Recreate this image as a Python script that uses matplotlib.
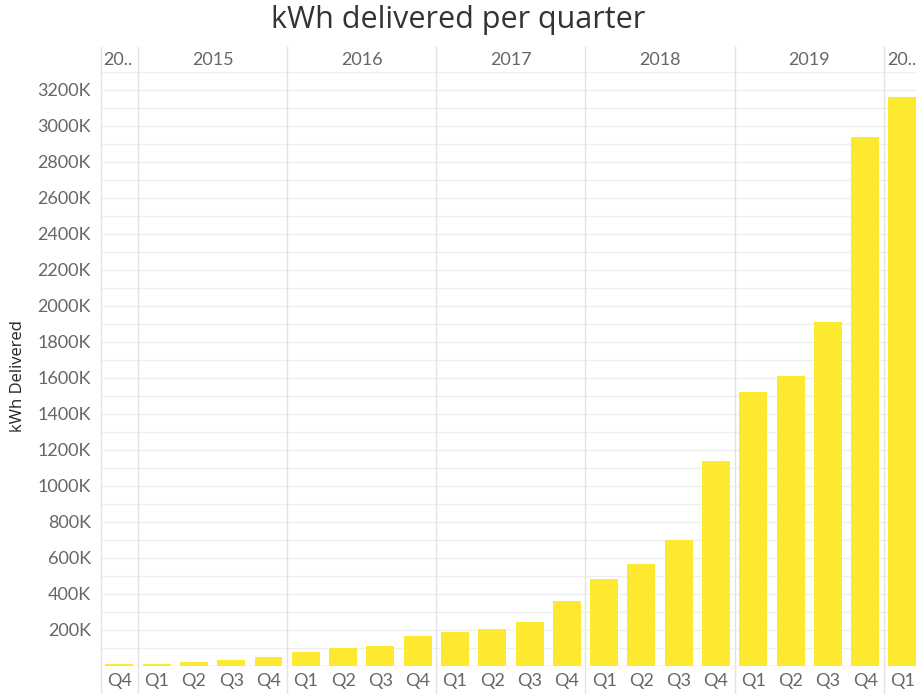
import numpy as np
import matplotlib.pyplot as plt

# quarters from 2014 Q4 to 2020 Q1
years = ["2014", "2015", "2016", "2017", "2018", "2019", "2020"]
year_labels = ["20..", "2015", "2016", "2017", "2018", "2019", "20.."]
quarters_per_year = [1, 4, 4, 4, 4, 4, 1]
quarter_labels = ["Q4"] + ["Q1", "Q2", "Q3", "Q4"] * 5 + ["Q1"]
kwh = [10, 9, 24, 35, 50, 78, 98, 113, 165, 190, 205, 244, 361,
       485, 568, 700, 1139, 1522, 1611, 1911, 2939, 3161]  # thousands

bar_color = "#FDE92F"
text_color = "#666666"
grid_color = "#EFEFEF"
line_color = "#E3E3E3"

plt.rcParams["font.family"] = ["Lato", "DejaVu Sans"]

fig = plt.figure(figsize=(9.17, 6.94), dpi=100)
ax = fig.add_axes([100.7 / 917, 28 / 694, 1 - 100.7 / 917, 594 / 694])

x = np.arange(len(kwh))
ax.bar(x, kwh, width=0.75, color=bar_color, zorder=3)

ax.set_xlim(-0.5, 21.39)
ax.set_ylim(0, 3300)
ax.set_yticks(np.arange(200, 3201, 200))
ax.set_yticklabels([f"{v}K" for v in range(200, 3201, 200)])
ax.set_yticks(np.arange(0, 3301, 100), minor=True)
ax.tick_params(axis="y", which="both", length=0, labelsize=13,
               labelcolor=text_color, pad=7)
ax.tick_params(axis="x", which="both", length=0, labelbottom=False)
ax.set_xticks([])
ax.grid(axis="y", which="both", color=grid_color, linewidth=1, zorder=0)
for s in ax.spines.values():
    s.set_visible(False)
ax.axhline(0, color=line_color, linewidth=1, zorder=4)

# year dividers, running through header and quarter rows
bounds = np.concatenate([[0], np.cumsum(quarters_per_year)]) - 0.5
for b in bounds[:-1]:
    ax.axvline(b, ymin=-0.047, ymax=1.042, color=line_color,
               linewidth=1, clip_on=False, zorder=2)

# year header
for i, lab in enumerate(year_labels):
    left, right = bounds[i], bounds[i + 1]
    if quarters_per_year[i] == 1:
        xpos, ha = left + 0.08, "left"
    else:
        xpos, ha = (left + right) / 2, "center"
    ax.text(xpos, 1.021, lab, transform=ax.get_xaxis_transform(),
            ha=ha, va="center", fontsize=13, color=text_color, clip_on=False)

# quarter labels
for xi, q in zip(x, quarter_labels):
    ax.text(xi, -0.025, q, transform=ax.get_xaxis_transform(),
            ha="center", va="center", fontsize=13, color=text_color, clip_on=False)

fig.text(18 / 917, 1 - 376 / 694, "kWh Delivered", rotation=90,
         ha="center", va="center", fontsize=12, color="#222222",
         family=["Open Sans", "DejaVu Sans"])
fig.text(0.5, 1 - 20 / 694, "kWh delivered per quarter",
         ha="center", va="center", fontsize=22, color="#333333",
         family=["Open Sans", "DejaVu Sans"])

fig.savefig("out.png", dpi=100)
